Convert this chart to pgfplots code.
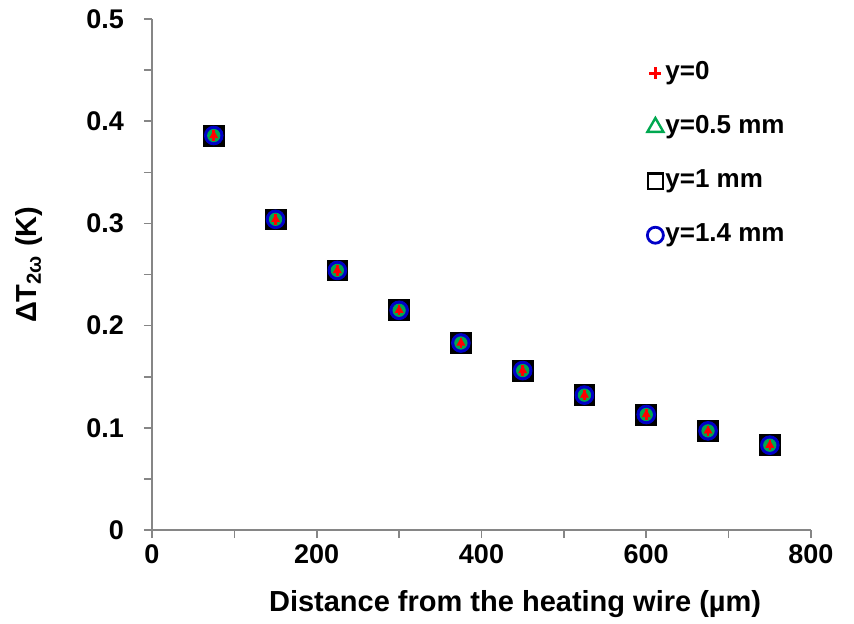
\documentclass[border=0pt]{standalone}
\usepackage{fontspec}
\setmainfont{Liberation Sans}
\usepackage{pgfplots}
\pgfplotsset{compat=1.18}
\definecolor{mkgreen}{RGB}{0,168,80}
\definecolor{mkblue}{RGB}{0,0,200}
\definecolor{axgray}{RGB}{134,134,134}

\begin{document}
\begin{tikzpicture}
\begin{axis}[
    scale only axis,
    width=329.5pt, height=255.5pt,
    xmin=0, xmax=800, ymin=0, ymax=0.5,
    axis lines=left,
    axis line style={-, axgray, line width=0.8pt},
    tick style={axgray, line width=0.8pt},
    tick align=outside,
    major tick length=4pt, minor tick length=4pt,
    xtick={0,200,...,800}, minor xtick={100,300,500,700},
    ytick={0,0.1,...,0.5}, minor ytick={0.05,0.15,0.25,0.35,0.45},
    yticklabel style={/pgf/number format/fixed, /pgf/number format/precision=1},
    /pgf/number format/assume math mode=true,
    ticklabel style={font=\fontsize{13.5}{16}\selectfont\bfseries},
    yticklabel style={xshift=-6.5pt},
    xlabel={\bfseries Distance from the heating wire (µm)},
    ylabel={\bfseries ΔT\textsubscript{2ω} (K)},
    label style={font=\fontsize{14.5}{17}\selectfont},
    xlabel style={at={(axis description cs:0.551,0)}, anchor=base, yshift=-40.5pt},
    ylabel style={at={(axis description cs:-0.1866,0.519)}, anchor=center},
    clip=false,
    legend style={draw=none, fill=none, at={(axis description cs:0.739,0.928)}, anchor=north west,
        font=\fontsize{13}{15}\selectfont\bfseries, row sep=14pt,
        nodes={inner sep=0pt, text height=9.5pt, text depth=3.5pt},
        /tikz/every even column/.append style={column sep=2.5pt}},
    legend cell align=left,
    legend image code/.code={\draw[#1] plot coordinates {(0pt,0pt)}; \path[draw=none, fill=none] (-5pt,-5pt) rectangle (5pt,5pt);},
]
\addplot[only marks, mark=square*, mark size=5.2pt, draw=black, fill=black, forget plot] coordinates {
(75,0.386) (150,0.304) (225,0.254) (300,0.215) (375,0.183) (450,0.156) (525,0.132) (600,0.113) (675,0.097) (750,0.083)};
\addplot[only marks, mark=*, mark size=4.7pt, draw=mkblue, fill=mkblue, forget plot] coordinates {
(75,0.386) (150,0.304) (225,0.254) (300,0.215) (375,0.183) (450,0.156) (525,0.132) (600,0.113) (675,0.097) (750,0.083)};
\addplot[only marks, mark=*, mark size=3.1pt, draw=mkgreen, fill=mkgreen, forget plot] coordinates {
(75,0.386) (150,0.304) (225,0.254) (300,0.215) (375,0.183) (450,0.156) (525,0.132) (600,0.113) (675,0.097) (750,0.083)};
\addplot[only marks, mark=|, mark size=2.6pt, red, line width=1.3pt, forget plot] coordinates {
(75,0.386) (150,0.304) (225,0.254) (300,0.215) (375,0.183) (450,0.156) (525,0.132) (600,0.113) (675,0.097) (750,0.083)};
\addplot[only marks, mark=triangle*, mark size=2.2pt, draw=red, fill=red, forget plot] coordinates {
(75,0.386) (150,0.304) (225,0.254) (300,0.215) (375,0.183) (450,0.156) (525,0.132) (600,0.113) (675,0.097) (750,0.083)};
% legend entries
\addlegendimage{mark=+, mark size=3pt, red, line width=1.5pt}
\addlegendentry{y=0}
\addlegendimage{mark=triangle, mark size=4.6pt, mkgreen, line width=1.2pt}
\addlegendentry{y=0.5 mm}
\addlegendimage{mark=square, mark size=3.8pt, black, line width=1.2pt}
\addlegendentry{y=1 mm}
\addlegendimage{mark=o, mark size=4pt, mkblue, line width=1.4pt}
\addlegendentry{y=1.4 mm}
\end{axis}
\pgfresetboundingbox
\path (-76pt,-46.5pt) rectangle (351pt,265pt);
\end{tikzpicture}
\end{document}
